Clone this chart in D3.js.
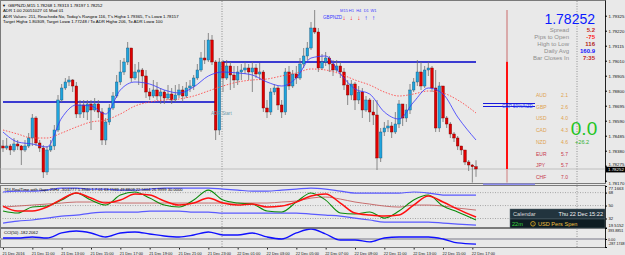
<!DOCTYPE html>
<html>
<head>
<meta charset="utf-8">
<script src="https://cdn.jsdelivr.net/npm/d3@7"></script>
<style>
body { margin: 0; background: #e9e9e9; }
svg text { font-family: "Liberation Sans", Arial, sans-serif; }
</style>
</head>
<body>
<script>
// ---- data ----
var firstOpen = 1.78413;
var closes = [1.78399,1.78413,1.78385,1.78427,1.78413,1.78385,1.78413,1.78469,1.78609,1.78434,
  1.78399,1.78231,1.78385,1.78413,1.78525,1.78735,1.78819,1.78861,1.78875,1.78833,
  1.78637,1.78700,1.78651,1.78707,1.78665,1.78707,1.78651,1.78455,1.78581,1.78679,
  1.78763,1.78861,1.78931,1.79001,1.79099,1.78889,1.78931,1.78945,1.78903,1.78791,
  1.78763,1.78805,1.78763,1.78791,1.78749,1.78777,1.78735,1.78770,1.78805,1.78763,
  1.78819,1.78833,1.78889,1.78945,1.79029,1.79015,1.79155,1.79001,1.78525,1.79001,
  1.78889,1.78973,1.78910,1.78875,1.78931,1.78945,1.78959,1.78931,1.78959,1.78917,
  1.78931,1.78679,1.78651,1.78791,1.78819,1.78700,1.78651,1.78931,1.78833,1.78917,
  1.78889,1.78987,1.79043,1.79099,1.79239,1.79211,1.78959,1.79001,1.79029,1.78987,
  1.78945,1.78973,1.78931,1.78840,1.78770,1.78847,1.78735,1.78791,1.78665,1.78735,
  1.78651,1.78630,1.78329,1.78511,1.78539,1.78553,1.78511,1.78567,1.78707,1.78609,
  1.78665,1.78805,1.78861,1.78931,1.78833,1.78945,1.78959,1.78819,1.78539,1.78833,
  1.78609,1.78567,1.78497,1.78469,1.78413,1.78385,1.78301,1.78280,1.78268,1.78252];
var highs = [1.78455,1.78469,1.78427,1.78469,1.78455,1.78420,1.78455,1.78504,1.78637,1.78623,
  1.78455,1.78420,1.78413,1.78455,1.78560,1.78770,1.78847,1.78889,1.78903,1.78882,
  1.78861,1.78735,1.78735,1.78735,1.78735,1.78749,1.78735,1.78679,1.78609,1.78707,
  1.78791,1.78910,1.79015,1.79029,1.79141,1.79099,1.78987,1.79001,1.78959,1.78945,
  1.78819,1.78875,1.78861,1.78819,1.78805,1.78840,1.78819,1.78840,1.78847,1.78833,
  1.78861,1.78875,1.78910,1.78987,1.79071,1.79155,1.79204,1.79190,1.79015,1.79029,
  1.79015,1.79015,1.79001,1.78973,1.78973,1.78987,1.79001,1.78987,1.79001,1.78987,
  1.78994,1.78945,1.78735,1.78819,1.78847,1.78833,1.78735,1.78959,1.78973,1.78945,
  1.78973,1.79029,1.79099,1.79141,1.79281,1.79365,1.79239,1.79057,1.79071,1.79043,
  1.79015,1.79015,1.79001,1.78959,1.78875,1.78875,1.78861,1.78833,1.78819,1.78763,
  1.78749,1.78735,1.78735,1.78539,1.78581,1.78595,1.78581,1.78651,1.78735,1.78707,
  1.78707,1.78847,1.78889,1.79015,1.79001,1.78973,1.79001,1.78973,1.78945,1.78861,
  1.78819,1.78623,1.78581,1.78511,1.78483,1.78413,1.78371,1.78315,1.78287,1.78313];
var lows = [1.78371,1.78385,1.78350,1.78371,1.78385,1.78280,1.78371,1.78399,1.78413,1.78413,
  1.78371,1.78189,1.78210,1.78371,1.78385,1.78511,1.78721,1.78805,1.78833,1.78791,
  1.78609,1.78609,1.78609,1.78595,1.78525,1.78651,1.78609,1.78420,1.78420,1.78560,
  1.78665,1.78749,1.78840,1.78910,1.78980,1.78861,1.78875,1.78840,1.78819,1.78749,
  1.78735,1.78749,1.78735,1.78707,1.78707,1.78735,1.78707,1.78721,1.78749,1.78721,
  1.78749,1.78791,1.78805,1.78875,1.78931,1.78987,1.79001,1.78980,1.78455,1.78490,
  1.78791,1.78875,1.78805,1.78819,1.78840,1.78875,1.78917,1.78875,1.78791,1.78889,
  1.78875,1.78651,1.78609,1.78630,1.78770,1.78665,1.78609,1.78630,1.78805,1.78819,
  1.78847,1.78875,1.78959,1.79015,1.79085,1.79197,1.78931,1.78945,1.78973,1.78931,
  1.78903,1.78931,1.78889,1.78805,1.78700,1.78735,1.78665,1.78707,1.78609,1.78651,
  1.78581,1.78560,1.78245,1.78301,1.78483,1.78511,1.78469,1.78497,1.78539,1.78553,
  1.78581,1.78637,1.78791,1.78833,1.78805,1.78819,1.78903,1.78791,1.78511,1.78511,
  1.78581,1.78539,1.78469,1.78441,1.78385,1.78350,1.78280,1.78238,1.78157,1.78197];

// indicator lines, read at every 4th bar
var lineIdx = [0,4,8,12,16,20,24,28,32,36,40,44,48,52,56,60,64,68,72,76,80,84,88,92,96,100,104,108,112,116,120,124,129];
var maFast = [1.78511,1.78441,1.78427,1.78406,1.78609,1.78700,1.78693,1.78637,1.78805,1.78861,1.78847,1.78805,1.78784,1.78826,1.78903,1.78931,1.78924,1.78910,1.78861,1.78833,1.78889,1.79029,1.79043,1.78917,1.78812,1.78777,1.78651,1.78602,1.78721,1.78819,1.78777,1.78616,1.78455];
var maSlow = [1.78525,1.78497,1.78469,1.78469,1.78504,1.78546,1.78581,1.78595,1.78637,1.78693,1.78721,1.78735,1.78742,1.78763,1.78798,1.78833,1.78861,1.78875,1.78882,1.78903,1.78924,1.78952,1.78945,1.78917,1.78875,1.78840,1.78791,1.78763,1.78777,1.78798,1.78784,1.78735,1.78644];
var tdiGreen = [42.4,39.6,47.9,49.3,57.6,67.4,57.6,50.7,64.6,68.8,60.4,50.7,47.9,57.6,71.5,57.6,53.5,52.1,42.4,41.0,54.9,67.4,57.6,39.6,38.2,41.0,32.6,42.4,57.6,64.6,49.3,41.0,29.9];
var tdiRed = [49.3,42.4,42.4,47.9,59.0,67.4,60.4,53.5,57.6,66.0,64.6,56.3,50.7,53.5,60.4,53.5,50.7,52.1,47.9,49.3,54.9,63.2,66.0,53.5,39.6,36.8,35.4,36.8,50.7,63.2,54.9,45.1,34.0];
var tdiBase = [47.9,49.3,50.7,52.1,53.5,54.9,54.9,54.9,53.5,53.5,53.5,53.5,53.5,53.5,53.5,53.5,53.5,53.5,53.5,54.9,56.3,60.4,61.8,59.0,54.9,52.1,49.3,47.9,50.7,50.7,49.3,46.5,43.7];
var tdiUp = [68.8,70.1,70.1,71.5,74.3,74.3,72.9,72.9,71.5,71.5,72.9,74.3,74.3,74.3,74.3,72.9,71.5,70.1,70.1,71.5,72.9,74.3,72.9,70.1,67.4,67.4,67.4,67.4,68.8,67.4,64.6,64.6,64.6];
var tdiDn = [25.7,28.5,29.9,32.6,35.4,36.8,39.6,41.0,41.0,41.0,42.4,42.4,42.4,41.0,41.0,39.6,39.6,39.6,39.6,39.6,39.6,38.2,36.8,35.4,32.6,29.9,27.1,27.1,27.1,27.1,25.7,24.3,22.9];
var cci = [36,36,72,36,215,286,215,72,215,251,179,107,72,143,251,143,143,215,72,0,215,358,179,-36,-36,-107,36,72,72,72,0,-140,-182];

var priceTicks = [1.79325,1.79220,1.79115,1.79010,1.78905,1.78800,1.78695,1.78590,1.78485,1.78380,1.78275,1.78170];
var lastPrice = 1.78252;
var tdiTicks = [77.1663,68,50,32,19.5152];
var tdiTickLabels = ["77.1663","68","50","32","19.5152"];
var tdiLevels = [68,50,32];
var cciTicks = [393.8851,0,-287.1748];
var cciTickLabels = ["393.8851","0.00","-287.1748"];
var timeIdx = [0,8,16,24,32,40,48,56,64,72,80,88,96,104,112,120,128];
var timeLabels = ["21 Dec 2016","21 Dec 11:00","21 Dec 13:00","21 Dec 15:00","21 Dec 17:00","21 Dec 19:00",
  "21 Dec 21:00","21 Dec 23:00","22 Dec 01:00","22 Dec 03:00","22 Dec 05:00","22 Dec 07:00","22 Dec 09:00",
  "22 Dec 11:00","22 Dec 13:00","22 Dec 15:00","22 Dec 17:00"];
var daySeparator = 60;
var dayOpens = [{from: 0, to: 58, price: 1.78721}, {from: 60, to: 129, price: 1.79001}];
var dailyBar = {open: 1.79002, high: 1.79365, low: 1.78157, close: 1.78252};

var headerLines = ["GBPNZD,M15  1.78268 1.78313 1.78197 1.78252",
  "ADR 1.00 20051027 01 Mod 01",
  "ADR Values: 211, Reached= No, Today's Range= 116, T's High= 1.79365, T's Low= 1.78157",
  "Target High= 1.80309, Target Low= 1.77248 / To ADR High= 206, To ADR Low= 100"];
var tfNames = ["M15","H1","H4","D1","W1"];
var tfDown = [true,true,true,false,false];
var infoLabels = ["Spread","Pips to Open","High to Low","Daily Avg","Bar Closes In"];
var infoValues = ["5.2","-75","116","160.9","7:35"];
var infoColors = ["#c42a2a","#ff2222","#b21c1c","#1414ff","#c42a2a"];
var strengthCur = ["AUD","GBP","USD","CAD","NZD","EUR","JPY","CHF"];
var strengthVal = ["2.1","2.6","4.0","4.3","4.6","5.7","5.7","7.0"];

// ---- drawing ----
var svg = d3.select("body").append("svg")
    .attr("width", 625).attr("height", 255)
    .style("background-color", "#e9e9e9");

var x = d3.scaleLinear().domain([0, 129]).range([3, 476]);
var y = d3.scaleLinear().domain([1.78161, 1.79435]).range([182, 0]);
var yT = d3.scaleLinear().domain([19.5152, 77.1663]).range([227.5, 186]);
var yC = d3.scaleLinear().domain([-287.1748, 393.8851]).range([247, 228]);

var defs = svg.append("defs");
defs.append("clipPath").attr("id", "cMain").append("rect").attr("x", 0).attr("y", 0).attr("width", 605).attr("height", 183);
defs.append("clipPath").attr("id", "cTdi").append("rect").attr("x", 0).attr("y", 186).attr("width", 605).attr("height", 41);
defs.append("clipPath").attr("id", "cCci").append("rect").attr("x", 0).attr("y", 228.5).attr("width", 605).attr("height", 18.5);

// frames
[[0.5, 0.5, 605, 183], [0.5, 185.5, 605, 42], [0.5, 228.5, 605, 19]].forEach(function(r){
    svg.append("rect").attr("x", r[0]).attr("y", r[1]).attr("width", r[2]).attr("height", r[3])
        .attr("fill", "none").attr("stroke", "#7a7a7a").attr("stroke-width", 1);
});

// vertical dotted lines
svg.append("line").attr("x1", x(daySeparator) - 1).attr("x2", x(daySeparator) - 1)
    .attr("y1", 1).attr("y2", 247).attr("stroke", "#777").attr("stroke-dasharray", "1,1.5").attr("stroke-width", 0.8);
svg.append("line").attr("x1", 577).attr("x2", 577).attr("y1", 1).attr("y2", 247)
    .attr("stroke", "#888").attr("stroke-dasharray", "1,1.5").attr("stroke-width", 0.9);

var main = svg.append("g").attr("clip-path", "url(#cMain)");

// bid line
main.append("line").attr("x1", 0).attr("x2", 605).attr("y1", y(lastPrice)).attr("y2", y(lastPrice))
    .attr("stroke", "#b4b4b4").attr("stroke-width", 0.8);

// day open lines
main.selectAll("line.dayopen").data(dayOpens).enter().append("line")
    .attr("x1", function(d){ return x(d.from); })
    .attr("x2", function(d){ return x(d.to); })
    .attr("y1", function(d){ return y(d.price); })
    .attr("y2", function(d){ return y(d.price); })
    .attr("stroke", "#0000c8").attr("stroke-width", 1.3);

// candles
var bars = closes.map(function(c, i){
    return {i: i, o: i == 0 ? firstOpen : closes[i - 1], c: c, h: highs[i], l: lows[i]};
});
main.selectAll("line.wick").data(bars).enter().append("line")
    .attr("x1", function(d){ return x(d.i); })
    .attr("x2", function(d){ return x(d.i); })
    .attr("y1", function(d){ return y(Math.max(d.h, d.o, d.c)); })
    .attr("y2", function(d){ return y(Math.min(d.l, d.o, d.c)); })
    .attr("stroke", "#6e6e6e").attr("stroke-width", 0.8);
main.selectAll("rect.body").data(bars).enter().append("rect")
    .attr("x", function(d){ return x(d.i) - 1.3; })
    .attr("y", function(d){ return y(Math.max(d.o, d.c)); })
    .attr("width", 2.6)
    .attr("height", function(d){ return Math.max(0.8, Math.abs(y(d.o) - y(d.c))); })
    .attr("fill", function(d){ return d.c >= d.o ? "#1fa4dc" : "#e00000"; })
    .attr("stroke", function(d){ return d.c >= d.o ? "#15557a" : "#6a0000"; })
    .attr("stroke-width", 0.4);

// moving averages
var mline = d3.line().x(function(d){ return x(d[0]); }).y(function(d){ return y(d[1]); }).curve(d3.curveMonotoneX);
main.append("path").datum(lineIdx.map(function(v, k){ return [v, maSlow[k]]; }))
    .attr("d", mline).attr("fill", "none").attr("stroke", "#ff4a4a").attr("stroke-width", 0.9).attr("stroke-dasharray", "1.5,1.5");
main.append("path").datum(lineIdx.map(function(v, k){ return [v, maFast[k]]; }))
    .attr("d", mline).attr("fill", "none").attr("stroke", "#3535ff").attr("stroke-width", 0.8);

// daily bar on the right
var dx = 507;
main.append("line").attr("x1", dx).attr("x2", dx).attr("y1", y(dailyBar.high)).attr("y2", y(dailyBar.open))
    .attr("stroke", "#d59a9a").attr("stroke-width", 1.6);
main.append("line").attr("x1", dx).attr("x2", dx).attr("y1", y(dailyBar.open)).attr("y2", y(dailyBar.close))
    .attr("stroke", "#ff1010").attr("stroke-width", 2);
main.append("line").attr("x1", dx).attr("x2", dx).attr("y1", y(dailyBar.close)).attr("y2", y(dailyBar.low))
    .attr("stroke", "#d9a5a5").attr("stroke-width", 1.6);

// ADR marker lines
[103.5, 106.5].forEach(function(yy){
    main.append("line").attr("x1", 483).attr("x2", 535).attr("y1", yy).attr("y2", yy)
        .attr("stroke", "#0000dd").attr("stroke-width", 0.9);
});
main.append("text").attr("x", 502).attr("y", 108).attr("font-size", 4.6).attr("fill", "#2a44ff").text("GBP 59%/NZD");
svg.append("line").attr("x1", 483).attr("x2", 535).attr("y1", 184.3).attr("y2", 184.3)
    .attr("stroke", "#8f8ff0").attr("stroke-width", 1.4);
main.append("text").attr("x", 211).attr("y", 115).attr("font-size", 4.6).attr("fill", "#6e9cac").text("ADR Start");

// header text
svg.append("text").attr("x", 2).attr("y", 6.5).attr("font-size", 4).attr("fill", "#000").text("\u25BC");
svg.selectAll("text.head").data(headerLines).enter().append("text")
    .attr("x", function(d, i){ return i == 0 ? 8 : 3; })
    .attr("y", function(d, i){ return 6.6 + i * 5.6; })
    .attr("font-size", 4.3).attr("fill", "#000")
    .text(function(d){ return d; });

// timeframe arrows
svg.append("text").attr("x", 323).attr("y", 18.5).attr("font-size", 4.6).attr("fill", "#3c3cff").text("GBPNZD");
tfNames.forEach(function(t, i){
    var xx = 344 + i * 7.4;
    svg.append("text").attr("x", xx).attr("y", 12).attr("font-size", 4).attr("text-anchor", "middle").attr("fill", "#3c3cff").text(t);
    svg.append("text").attr("x", xx).attr("y", 19.5).attr("font-size", 6.5).attr("font-weight", "bold")
        .attr("text-anchor", "middle").attr("font-family", "DejaVu Sans")
        .attr("fill", tfDown[i] ? "#ff1a1a" : "#1a1aff").text(tfDown[i] ? "\u2193" : "\u2191");
});

// info panel
svg.append("text").attr("x", 595).attr("y", 23.5).attr("font-size", 14).attr("text-anchor", "end")
    .attr("fill", "#0a1aff").text(d3.format(".5f")(lastPrice));
infoLabels.forEach(function(t, i){
    svg.append("text").attr("x", 569).attr("y", 31.5 + i * 7.1).attr("font-size", 6).attr("text-anchor", "end")
        .attr("fill", "#8e8e8e").text(t);
    svg.append("text").attr("x", 595).attr("y", 31.5 + i * 7.1).attr("font-size", 6).attr("text-anchor", "end")
        .attr("font-weight", "bold").attr("fill", infoColors[i]).text(infoValues[i]);
});

// currency strength
strengthCur.forEach(function(c, i){
    var col = i < 5 ? "#e0a24e" : "#c8384a";
    svg.append("text").attr("x", 536).attr("y", 97 + i * 11.7).attr("font-size", 5).attr("font-family", "DejaVu Sans Mono")
        .attr("fill", col).text(c);
    svg.append("text").attr("x", 568).attr("y", 97 + i * 11.7).attr("font-size", 5).attr("font-family", "DejaVu Sans Mono")
        .attr("text-anchor", "end").attr("fill", col).text(strengthVal[i]);
});
svg.append("text").attr("x", 584).attr("y", 135).attr("font-size", 19).attr("text-anchor", "middle").attr("fill", "#22c422").text("0.0");
svg.append("text").attr("x", 575).attr("y", 143.5).attr("font-size", 5.6).attr("fill", "#33b033").text("+26.2");

// price axis
var pAxis = svg.append("g").attr("transform", "translate(605,0)")
    .call(d3.axisRight(y).tickValues(priceTicks).tickFormat(d3.format(".5f")).tickSize(2).tickSizeOuter(0));
pAxis.select(".domain").attr("stroke", "#222");
pAxis.selectAll("text").attr("font-size", 4.4).attr("dx", -1.5).attr("fill", "#111")
    .attr("font-family", "Liberation Sans")
    .attr("dy", function(d){ return d == 1.78275 ? "-0.1em" : (d == 1.78170 ? "0.75em" : "0.32em"); });
svg.append("rect").attr("x", 606).attr("y", y(lastPrice) - 2.2).attr("width", 19).attr("height", 5.6).attr("fill", "#000");
svg.append("text").attr("x", 608).attr("y", y(lastPrice) + 2.2).attr("font-size", 4.4).attr("fill", "#fff")
    .text(d3.format(".5f")(lastPrice));

// ---- TDI panel ----
var tdi = svg.append("g").attr("clip-path", "url(#cTdi)");
tdi.selectAll("line.lvl").data(tdiLevels).enter().append("line")
    .attr("x1", 0).attr("x2", 605)
    .attr("y1", function(d){ return yT(d); }).attr("y2", function(d){ return yT(d); })
    .attr("stroke", "#8a8a8a").attr("stroke-dasharray", "1,1.5").attr("stroke-width", 0.7);
var tline = d3.line().x(function(d){ return x(d[0]); }).y(function(d){ return yT(d[1]); }).curve(d3.curveMonotoneX);
function tdiPath(vals, color, w){
    tdi.append("path").datum(lineIdx.map(function(v, k){ return [v, vals[k]]; }))
        .attr("d", tline).attr("fill", "none").attr("stroke", color).attr("stroke-width", w);
}
tdiPath(tdiUp, "#5a5aff", 1.2);
tdiPath(tdiDn, "#5a5aff", 1.2);
tdiPath(tdiBase, "#c46060", 0.9);
tdiPath(tdiGreen, "#0a8a0a", 1.1);
tdiPath(tdiRed, "#ff1010", 1.5);
svg.append("text").attr("x", 4).attr("y", 191).attr("font-size", 4.1).attr("fill", "#000")
    .text("TDI-RealTime with Gaps 25Hz -30/4777 5.3940 1.7.01 63.1599 49.8809 22.5604 26.9999 30.0000");
var tAxis = svg.append("g").attr("transform", "translate(605,0)")
    .call(d3.axisRight(yT).tickValues(tdiTicks).tickFormat(function(d, i){ return tdiTickLabels[i]; }).tickSize(2).tickSizeOuter(0));
tAxis.select(".domain").attr("stroke", "#222");
tAxis.selectAll("text").attr("font-size", 4.2).attr("dx", -1.5).attr("fill", "#111").attr("font-family", "Liberation Sans")
    .attr("dy", function(d, i){ return i == 0 ? "0.8em" : (i == tdiTicks.length - 1 ? "-0.3em" : "0.32em"); });

// ---- CCI panel ----
var cp = svg.append("g").attr("clip-path", "url(#cCci)");
cp.append("line").attr("x1", 0).attr("x2", 605).attr("y1", yC(0)).attr("y2", yC(0))
    .attr("stroke", "#b0b0b8").attr("stroke-width", 2.2);
var cline = d3.line().x(function(d){ return x(d[0]); }).y(function(d){ return yC(d[1]); }).curve(d3.curveMonotoneX);
cp.append("path").datum(lineIdx.map(function(v, k){ return [v, cci[k]]; }))
    .attr("d", cline).attr("fill", "none").attr("stroke", "#1010ff").attr("stroke-width", 1.3);
svg.append("text").attr("x", 4).attr("y", 233.5).attr("font-size", 4.1).attr("fill", "#000").text("CCI(50) -182.2062");
var cAxis = svg.append("g").attr("transform", "translate(605,0)")
    .call(d3.axisRight(yC).tickValues(cciTicks).tickFormat(function(d, i){ return cciTickLabels[i]; }).tickSize(2).tickSizeOuter(0));
cAxis.select(".domain").attr("stroke", "#222");
cAxis.selectAll("text").attr("font-size", 3.7).attr("dx", -2).attr("fill", "#111").attr("font-family", "Liberation Sans")
    .attr("dy", function(d, i){ return i == 0 ? "1.0em" : (i == cciTicks.length - 1 ? "-0.6em" : "0.32em"); });

// calendar box
svg.append("rect").attr("x", 510).attr("y", 209).attr("width", 95).attr("height", 10).attr("fill", "#22343e").attr("stroke", "#5a6a72").attr("stroke-width", 0.5);
svg.append("rect").attr("x", 510).attr("y", 219).attr("width", 95).attr("height", 9).attr("fill", "#0e1c22").attr("stroke", "#5a6a72").attr("stroke-width", 0.5);
svg.append("text").attr("x", 513).attr("y", 216.3).attr("font-size", 5.6).attr("fill", "#d8d8d8").text("Calendar");
svg.append("text").attr("x", 603).attr("y", 216.3).attr("font-size", 5.6).attr("text-anchor", "end").attr("fill", "#f0f0f0").text("Thu 22 Dec 15:22");
svg.append("text").attr("x", 512).attr("y", 225.8).attr("font-size", 5.6).attr("fill", "#3ad83a").text("22m");
svg.append("circle").attr("cx", 533).attr("cy", 223.8).attr("r", 2.3).attr("fill", "none").attr("stroke", "#e8b020").attr("stroke-width", 0.8);
svg.append("text").attr("x", 533).attr("y", 225.5).attr("font-size", 3.5).attr("text-anchor", "middle").attr("fill", "#e8b020").text("!");
svg.append("text").attr("x", 538).attr("y", 225.8).attr("font-size", 5.6).attr("fill", "#f0c040").text("USD Pers Spen");

// time axis
var xAxis = svg.append("g").attr("transform", "translate(0,248)")
    .call(d3.axisBottom(x).tickValues(timeIdx).tickFormat(function(d, i){ return timeLabels[i]; }).tickSize(1.5).tickSizeOuter(0));
xAxis.select(".domain").remove();
xAxis.selectAll("text").attr("font-size", 3.9).attr("text-anchor", "start").attr("dx", -1).attr("dy", "0.55em")
    .attr("fill", "#111").attr("font-family", "Liberation Sans");
xAxis.selectAll("line").attr("stroke", "#222");
</script>
</body>
</html>
